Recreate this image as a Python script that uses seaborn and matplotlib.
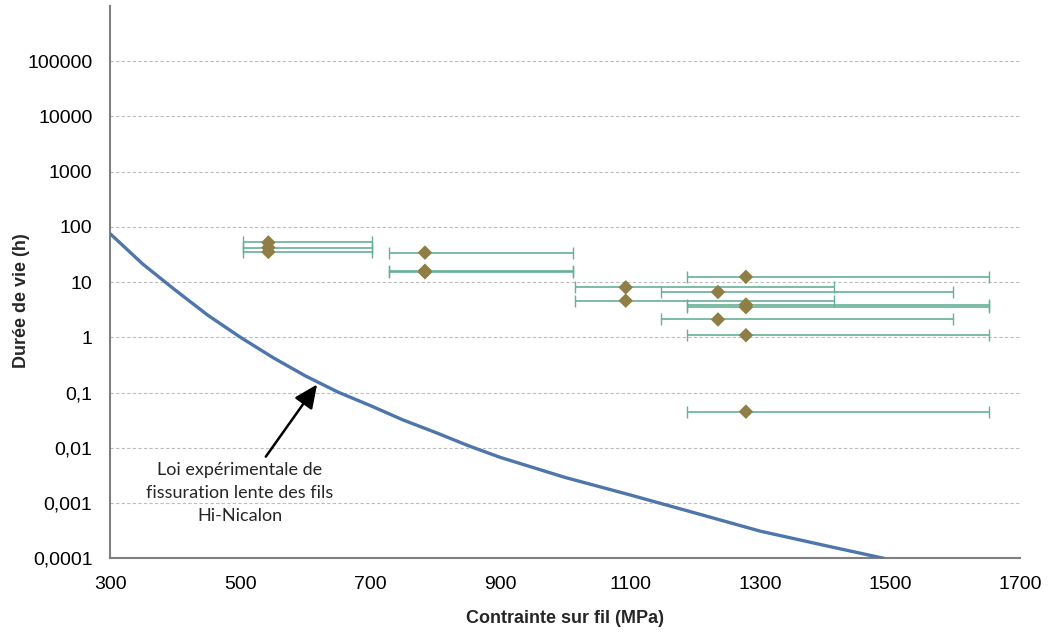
import numpy as np
import pandas as pd
import matplotlib
matplotlib.use("Agg")
import matplotlib.pyplot as plt
import seaborn as sns

# slow crack growth law
law_stress = [300, 350, 400, 450, 500, 550, 600, 650, 700, 750, 800, 850,
              900, 1000, 1100, 1200, 1300, 1400, 1490]
law_life = [74, 21, 7.1, 2.5, 1.0, 0.43, 0.2, 0.102, 0.058, 0.032, 0.019,
            0.011, 0.0067, 0.0029, 0.0014, 0.00066, 0.00031, 0.00017, 0.0001]

# test points with stress range bars
pt_stress = [543, 543, 543, 784, 784, 784, 1278, 1093, 1235, 1093,
             1278, 1278, 1235, 1278, 1278]
pt_life = [52, 42, 35, 34, 16, 15, 12.4, 8.0, 6.6, 4.6,
           3.9, 3.5, 2.1, 1.09, 0.045]
pt_low = [504, 504, 504, 728, 728, 728, 1187, 1015, 1147, 1015,
          1187, 1187, 1147, 1187, 1187]
pt_high = [702, 702, 702, 1012, 1012, 1012, 1652, 1413, 1597, 1413,
           1652, 1652, 1597, 1652, 1652]

y_ticks = [1e-4, 1e-3, 1e-2, 1e-1, 1, 10, 100, 1000, 1e4, 1e5]
y_labels = ["0,0001", "0,001", "0,01", "0,1", "1", "10", "100", "1000",
            "10000", "100000"]
x_ticks = [300, 500, 700, 900, 1100, 1300, 1500, 1700]

law_df = pd.DataFrame({"stress": law_stress, "life": law_life})
pts_df = pd.DataFrame({"stress": pt_stress, "life": pt_life,
                       "low": pt_low, "high": pt_high})

sns.set_style("white")
plt.rcParams["font.family"] = ["Liberation Sans", "DejaVu Sans"]

fig = plt.figure(figsize=(10.48, 6.39), dpi=100)
ax = fig.add_axes([0.1054, 0.1263, 0.868, 0.8647])

ax.set_yscale("log")
ax.set_xlim(300, 1700)
ax.set_ylim(1e-4, 1e6)

# grid
for t in y_ticks:
    ax.axhline(t, color="#bdbdbd", linestyle=(0, (3, 2)), linewidth=0.8, zorder=0)

# error bars on stress
xerr = [pts_df["stress"] - pts_df["low"], pts_df["high"] - pts_df["stress"]]
ax.errorbar(pts_df["stress"], pts_df["life"], xerr=xerr, fmt="none",
            ecolor="#66b095", elinewidth=1.2, capsize=4, capthick=1.0, zorder=2)

sns.lineplot(data=law_df, x="stress", y="life", ax=ax, color="#4e76ab",
             linewidth=2.4, zorder=3)
sns.scatterplot(data=pts_df, x="stress", y="life", ax=ax, marker="D",
                color="#8f7f46", s=55, edgecolor="none", zorder=4)

ax.set_yticks(y_ticks)
ax.set_yticklabels(y_labels)
ax.minorticks_off()
ax.set_xticks(x_ticks)
ax.tick_params(axis="both", labelsize=14, colors="#000000", length=6,
               width=1, direction="out", pad=7)
ax.tick_params(axis="both", color="#7f7f7f")

for side in ["top", "right"]:
    ax.spines[side].set_visible(False)
for side in ["left", "bottom"]:
    ax.spines[side].set_color("#7f7f7f")
    ax.spines[side].set_linewidth(1.5)

ax.set_xlabel("Contrainte sur fil (MPa)", fontsize=13, fontweight="bold", labelpad=12)
ax.set_ylabel("Durée de vie (h)", fontsize=13, fontweight="bold")
ax.yaxis.set_label_coords(-0.088, 0.467)

ax.annotate("Loi expérimentale de\nfissuration lente des fils\nHi-Nicalon",
            xy=(618, 0.14), xytext=(499, 0.0015), ha="center", va="center",
            fontsize=13, family=["Lato", "DejaVu Sans"], linespacing=1.55,
            arrowprops=dict(arrowstyle="-|>,head_length=1.1,head_width=0.5",
                            color="black", lw=1.8, shrinkA=2, shrinkB=0))

fig.savefig("out.png", dpi=100)
